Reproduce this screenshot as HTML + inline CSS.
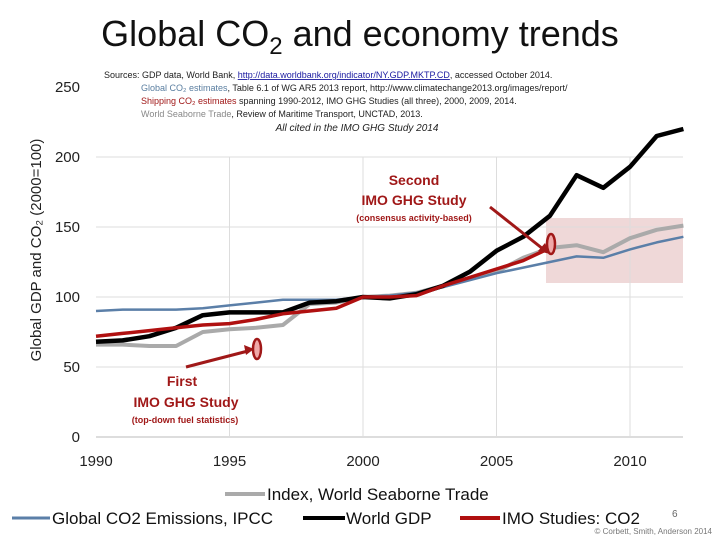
<!DOCTYPE html>
<html><head><meta charset="utf-8"><style>
body{margin:0;background:#fff;}
svg text{font-family:"Liberation Sans",sans-serif;}
</style></head><body>
<svg id="c" width="720" height="540" viewBox="0 0 720 540" xmlns="http://www.w3.org/2000/svg">
<text x="360" y="46" font-size="36" text-anchor="middle" fill="#111">Global CO<tspan font-size="24" dy="8">2</tspan><tspan dy="-8"> and economy trends</tspan></text>
<g font-size="9" fill="#222">
<text x="104" y="78">Sources: GDP data, World Bank, <tspan fill="#1a1aa0" text-decoration="underline">http://data.worldbank.org/indicator/NY.GDP.MKTP.CD</tspan>, accessed October 2014.</text>
<text x="141" y="91"><tspan fill="#5a7ea0">Global CO₂ estimates</tspan>, Table 6.1 of WG AR5 2013 report, http://www.climatechange2013.org/images/report/</text>
<text x="141" y="104"><tspan fill="#a01818">Shipping CO₂ estimates</tspan> spanning 1990-2012, IMO GHG Studies (all three), 2000, 2009, 2014.</text>
<text x="141" y="117"><tspan fill="#888">World Seaborne Trade</tspan>, Review of Maritime Transport, UNCTAD, 2013.</text>
<text x="357" y="131" font-style="italic" font-size="10" text-anchor="middle">All cited in the IMO GHG Study 2014</text>
</g>
<text transform="translate(41,250) rotate(-90)" font-size="15" text-anchor="middle" fill="#222">Global GDP and CO₂ (2000=100)</text>
<rect x="546" y="218" width="137" height="65" fill="#e8c8c8" opacity="0.7"/>
<g id="grid"></g><g id="axes"></g><g id="lines"></g>
<g>
<text x="414" y="185" font-size="14" font-weight="bold" fill="#a01818" text-anchor="middle">Second</text>
<text x="414" y="205" font-size="14" font-weight="bold" fill="#a01818" text-anchor="middle">IMO GHG Study</text>
<text x="414" y="221" font-size="9" font-weight="bold" fill="#a01818" text-anchor="middle">(consensus activity-based)</text>
<line x1="490" y1="207" x2="543" y2="249" stroke="#a01818" stroke-width="3"/>
<polygon points="550,254 538,251 545,243" fill="#a01818"/>
<ellipse cx="551" cy="244" rx="4" ry="10" fill="#f0a8a8" stroke="#a01818" stroke-width="2.5"/>
</g>
<g>
<text x="182" y="386" font-size="14" font-weight="bold" fill="#a01818" text-anchor="middle">First</text>
<text x="186" y="407" font-size="14" font-weight="bold" fill="#a01818" text-anchor="middle">IMO GHG Study</text>
<text x="185" y="423" font-size="9" font-weight="bold" fill="#a01818" text-anchor="middle">(top-down fuel statistics)</text>
<line x1="186" y1="367" x2="248" y2="351" stroke="#a01818" stroke-width="3"/>
<polygon points="254,349 244,345 246,355" fill="#a01818"/>
<ellipse cx="257" cy="349" rx="4" ry="10" fill="#f0a8a8" stroke="#a01818" stroke-width="2.5"/>
</g>
<g font-size="17" fill="#111">
<g><line x1="225" y1="494" x2="265" y2="494" stroke="#aaa" stroke-width="4"/><text x="267" y="500">Index, World Seaborne Trade</text></g>
<g><line x1="12" y1="518" x2="50" y2="518" stroke="#5b7fa8" stroke-width="3"/><text x="52" y="524">Global CO2 Emissions, IPCC</text></g>
<g><line x1="303" y1="518" x2="345" y2="518" stroke="#000" stroke-width="4"/><text x="346" y="524">World GDP</text></g>
<g><line x1="460" y1="518" x2="500" y2="518" stroke="#b01010" stroke-width="4"/><text x="502" y="524">IMO Studies: CO2</text></g>
</g>
<text x="672" y="517" font-size="10" fill="#666">6</text>
<text x="712" y="534" font-size="8" fill="#777" text-anchor="end">© Corbett, Smith, Anderson 2014</text>
</svg>
<script>
const years=[1990,1991,1992,1993,1994,1995,1996,1997,1998,1999,2000,2001,2002,2003,2004,2005,2006,2007,2008,2009,2010,2011,2012];
const gdp=[68,69,72,78,87,89,89,89,96,97,100,99,102,108,118,133,143,158,187,178,193,215,220];
const imo=[72,74,76,78,80,81,84,88,90,92,100,100,101,108,114,120,126,135];
const trade=[66,66,65,65,75,77,78,80,95,96,100,101,103,108,113,118,128,135,137,132,142,148,151];
const co2=[90,91,91,91,92,94,96,98,98,98,100,101,103,107,112,117,121,125,129,128,134,139,143];
const yTicks=[0,50,100,150,200,250];
const xTicks=[1990,1995,2000,2005,2010];
const NS="http://www.w3.org/2000/svg";
function X(y){return 96+(y-1990)*26.7;}
function Y(v){return 437-v*1.4;}
function mk(tag,attrs,parent){const e=document.createElementNS(NS,tag);for(const k in attrs)e.setAttribute(k,attrs[k]);document.getElementById(parent).appendChild(e);return e;}
yTicks.forEach(v=>{
  if(v<=200){const g=mk('line',{x1:96,x2:683,y1:Y(v),y2:Y(v),stroke:v===0?'#bbb':'#ddd','stroke-width':1},'grid');
  
  }
  const t=mk('text',{x:80,y:Y(v)+5,'font-size':15,'text-anchor':'end',fill:'#222'},'axes');t.textContent=v;
  
  
});
xTicks.forEach(v=>{
  if(v>1990){const g=mk('line',{x1:X(v),x2:X(v),y1:Y(0),y2:Y(200),stroke:'#ddd','stroke-width':1},'grid');
  
  }
  const t=mk('text',{x:X(v),y:466,'font-size':15,'text-anchor':'middle',fill:'#222'},'axes');t.textContent=v;
  
  
});
function series(arr,color,w,name){
  const d=arr.map((v,i)=>(i?'L':'M')+X(years[i]).toFixed(1)+','+Y(v).toFixed(1)).join(' ');
  const p=mk('path',{d:d,fill:'none',stroke:color,'stroke-width':w,'stroke-linejoin':'round'},'lines');
  
  
}
series(trade,'#aaaaaa',4,'line-seaborne-trade');
series(co2,'#5b7fa8',2.5,'line-global-co2');
series(gdp,'#000000',4.5,'line-world-gdp');
series(imo,'#b01010',3.5,'line-imo-co2');
</script>
</body></html>
